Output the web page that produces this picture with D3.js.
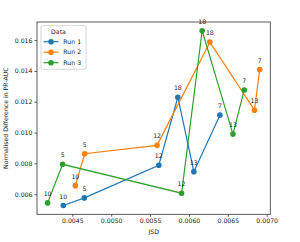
<!DOCTYPE html>
<html>
  <head>
    <meta charset="UTF-8" />
    <title>JSD vs PR-AUC</title>
    <script src="https://d3js.org/d3.v7.min.js"></script>
    <style>
      body { margin: 0; background: #fff; }
      svg text { font-family: "DejaVu Sans", sans-serif; fill: #222; }
    </style>
  </head>
  <body>
    <div id="chart"></div>
    <script>
      // point labels, in the order the lines join them
      const labels = ["10", "5", "12", "18", "13", "7"];
      const runNames = ["Run 1", "Run 2", "Run 3"];
      const colors = ["#1f77b4", "#ff7f0e", "#2ca02c"];

      const run1Jsd = [0.004384, 0.004655, 0.005612, 0.005857, 0.006063, 0.006398];
      const run1Diff = [0.005263, 0.005761, 0.007876, 0.012294, 0.007462, 0.01113];
      const run2Jsd = [0.004539, 0.004659, 0.00559, 0.006269, 0.006843, 0.00691];
      const run2Diff = [0.006556, 0.008626, 0.00917, 0.01587, 0.011453, 0.014085];
      const run3Jsd = [0.004182, 0.004375, 0.005905, 0.00617, 0.006566, 0.006711];
      const run3Diff = [0.005437, 0.00794, 0.006065, 0.016608, 0.0099, 0.012766];

      const xTicks = [0.0045, 0.005, 0.0055, 0.006, 0.0065, 0.007];
      const yTicks = [0.006, 0.008, 0.01, 0.012, 0.014, 0.016];

      const runs = [
        [run1Jsd, run1Diff],
        [run2Jsd, run2Diff],
        [run3Jsd, run3Diff],
      ].map(([xs, ys], i) => ({
        name: runNames[i],
        color: colors[i],
        points: xs.map((x, j) => ({ x, y: ys[j], label: labels[j] })),
      }));

      const width = 300, height = 242;
      const margin = { top: 22, right: 29.7, bottom: 27.7, left: 37 };
      const fs = 6.2;

      const svg = d3.select("#chart").append("svg")
        .attr("width", width).attr("height", height);

      // matplotlib-like 5% padding
      const pad = (ext) => {
        const d = (ext[1] - ext[0]) * 0.05;
        return [ext[0] - d, ext[1] + d];
      };
      const allX = runs.flatMap((r) => r.points.map((p) => p.x));
      const allY = runs.flatMap((r) => r.points.map((p) => p.y));

      const x = d3.scaleLinear().domain(pad(d3.extent(allX)))
        .range([margin.left, width - margin.right]);
      const y = d3.scaleLinear().domain(pad(d3.extent(allY)))
        .range([height - margin.bottom, margin.top]);

      const xAxis = svg.append("g")
        .attr("transform", `translate(0,${height - margin.bottom})`)
        .call(d3.axisBottom(x).tickValues(xTicks).tickFormat(d3.format(".4f"))
          .tickSize(2.5).tickPadding(2));
      const yAxis = svg.append("g")
        .attr("transform", `translate(${margin.left},0)`)
        .call(d3.axisLeft(y).tickValues(yTicks).tickFormat(d3.format(".3f"))
          .tickSize(2.5).tickPadding(2));
      [xAxis, yAxis].forEach((a) => {
        a.select(".domain").remove();
        a.selectAll("line").attr("stroke", "#333").attr("stroke-width", 0.8);
        a.selectAll("text").style("font-size", fs + "px").attr("fill", "#222");
      });

      svg.append("rect")
        .attr("x", margin.left).attr("y", margin.top)
        .attr("width", width - margin.left - margin.right)
        .attr("height", height - margin.top - margin.bottom)
        .attr("fill", "none").attr("stroke", "#333").attr("stroke-width", 0.8);

      const line = d3.line().x((d) => x(d.x)).y((d) => y(d.y));

      runs.forEach((r) => {
        const g = svg.append("g");
        g.append("path").datum(r.points)
          .attr("d", line).attr("fill", "none")
          .attr("stroke", r.color).attr("stroke-width", 1.2);
        g.selectAll("circle").data(r.points).join("circle")
          .attr("cx", (d) => x(d.x)).attr("cy", (d) => y(d.y))
          .attr("r", 2.8).attr("fill", r.color);
        g.selectAll("text").data(r.points).join("text")
          .attr("x", (d) => x(d.x)).attr("y", (d) => y(d.y) - 7)
          .attr("text-anchor", "middle")
          .style("font-size", fs + "px")
          .text((d) => d.label);
      });

      svg.append("text")
        .attr("x", (margin.left + width - margin.right) / 2).attr("y", 234)
        .attr("text-anchor", "middle").style("font-size", fs + "px")
        .text("JSD");
      svg.append("text")
        .attr("transform", `translate(8,${(margin.top + height - margin.bottom) / 2}) rotate(-90)`)
        .attr("text-anchor", "middle").style("font-size", fs + "px")
        .text("Normalised Difference in PR-AUC");

      // legend
      const lg = svg.append("g").attr("transform", "translate(41,25.7)");
      lg.append("rect").attr("width", 45).attr("height", 43.6)
        .attr("rx", 1.5).attr("fill", "#fff").attr("fill-opacity", 0.8)
        .attr("stroke", "#ccc").attr("stroke-width", 0.8);
      lg.append("text").attr("x", 17.5).attr("y", 8.2)
        .attr("text-anchor", "middle").style("font-size", fs + "px").text("Data");
      runs.forEach((r, i) => {
        const yy = 16 + i * 10.5;
        lg.append("line").attr("x1", 2.5).attr("x2", 17.5)
          .attr("y1", yy).attr("y2", yy)
          .attr("stroke", r.color).attr("stroke-width", 1.2);
        lg.append("circle").attr("cx", 10).attr("cy", yy).attr("r", 2.8)
          .attr("fill", r.color);
        lg.append("text").attr("x", 22.3).attr("y", yy + 2.2)
          .style("font-size", fs + "px").text(r.name);
      });
    </script>
  </body>
</html>
